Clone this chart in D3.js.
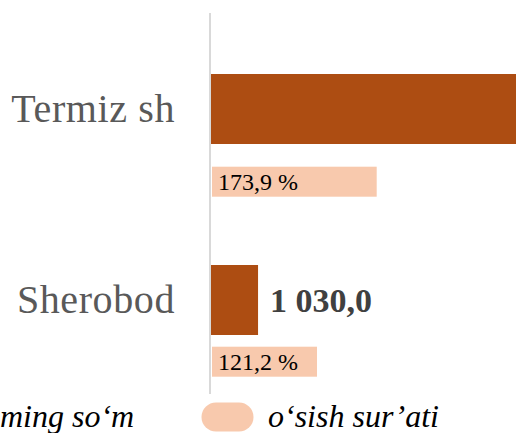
<!DOCTYPE html>
<html>
<head>
<meta charset="utf-8">
<script src="https://cdn.jsdelivr.net/npm/d3@7/dist/d3.min.js"></script>
<style>
  body { margin: 0; background: #fff; }
  svg { display: block; }
</style>
</head>
<body>
<svg id="chart"></svg>
<script>
// data
var categories = ["Termiz sh", "Sherobod"];
var volumeValues = [6560, 1030.0];      // ming so'm (Termiz bar runs off the picture)
var growthValues = [173.9, 121.2];      // o'sish sur'ati, %
var legendLabels = ["ming so\u2018m", "o\u2018sish sur\u2019ati"];

var w = 517;
var h = 433;

var colDark = "#ad4d12";
var colPink = "#f8c9ad";

var plotLeft = 210;
var plotTop = 13;
var plotBottom = 394;

var serif = "'Liberation Serif', 'Times New Roman', serif";

var locale = d3.formatLocale({ decimal: ",", thousands: " ", grouping: [3] });
var fmtVal = locale.format(",.1f");
var fmtPct = locale.format(".1f");

var svg = d3.select("#chart").attr("width", w).attr("height", h);

// scales
var x = d3.scaleLinear().domain([0, volumeValues[0]]).range([plotLeft, 516]);
// secondary axis for growth rate (does not start at zero)
var x2 = d3.scaleLinear().domain([28.5, 173.9]).range([plotLeft + 2, 376.7]);

var yMain = d3.scaleBand().domain(categories)
    .range([74, 335]).paddingInner(121 / 191).paddingOuter(0);
var yPct = d3.scaleBand().domain(categories)
    .range([166.7, 376.7]).paddingInner(150 / 180).paddingOuter(0);

// main bars
svg.selectAll(".bar")
    .data(categories)
    .enter()
    .append("rect")
    .attr("class", "bar")
    .attr("x", x(0))
    .attr("y", function(d) { return yMain(d); })
    .attr("width", function(d, i) { return x(volumeValues[i]) - x(0); })
    .attr("height", yMain.bandwidth())
    .attr("fill", colDark);

// growth bars
svg.selectAll(".pbar")
    .data(categories)
    .enter()
    .append("rect")
    .attr("class", "pbar")
    .attr("x", x2.range()[0])
    .attr("y", function(d) { return yPct(d); })
    .attr("width", function(d, i) { return x2(growthValues[i]) - x2.range()[0]; })
    .attr("height", yPct.bandwidth())
    .attr("fill", colPink);

// vertical axis line
svg.append("line")
    .attr("x1", plotLeft).attr("x2", plotLeft)
    .attr("y1", plotTop).attr("y2", plotBottom)
    .attr("stroke", "#d9d9d9")
    .attr("stroke-width", 2);

// category labels
svg.selectAll(".cat")
    .data(categories)
    .enter()
    .append("text")
    .attr("class", "cat")
    .attr("x", 175)
    .attr("y", function(d) { return yMain(d) + yMain.bandwidth() / 2; })
    .attr("dy", "0.33em")
    .attr("text-anchor", "end")
    .style("font-family", serif)
    .style("font-size", "40px")
    .style("letter-spacing", "0.6px")
    .attr("fill", "#595959")
    .text(function(d) { return d; });

// value labels (only those inside the picture)
svg.selectAll(".val")
    .data(categories.filter(function(d, i) { return x(volumeValues[i]) + 110 < w; }))
    .enter()
    .append("text")
    .attr("class", "val")
    .attr("x", function(d) { return x(volumeValues[categories.indexOf(d)]) + 12; })
    .attr("y", function(d) { return yMain(d) + yMain.bandwidth() / 2; })
    .attr("dy", "0.36em")
    .style("font-family", serif)
    .style("font-size", "34px")
    .style("font-weight", "bold")
    .attr("fill", "#404040")
    .text(function(d) { return fmtVal(volumeValues[categories.indexOf(d)]); });

// growth labels
svg.selectAll(".pct")
    .data(categories)
    .enter()
    .append("text")
    .attr("class", "pct")
    .attr("x", x2.range()[0] + 6)
    .attr("y", function(d) { return yPct(d) + yPct.bandwidth() / 2; })
    .attr("dy", "0.36em")
    .style("font-family", serif)
    .style("font-size", "24px")
    .attr("fill", "#000")
    .text(function(d, i) { return fmtPct(growthValues[i]) + " %"; });

// legend
var legY = 427;
svg.append("text")
    .attr("x", 0)
    .attr("y", legY)
    .style("font-family", serif)
    .style("font-size", "32px")
    .style("font-style", "italic")
    .attr("fill", "#000")
    .text(legendLabels[0]);

svg.append("rect")
    .attr("x", 201.5)
    .attr("y", 402.5)
    .attr("width", 52)
    .attr("height", 29)
    .attr("rx", 14.5)
    .attr("fill", colPink);

svg.append("text")
    .attr("x", 268)
    .attr("y", legY)
    .style("font-family", serif)
    .style("font-size", "32px")
    .style("font-style", "italic")
    .attr("fill", "#000")
    .text(legendLabels[1]);
</script>
</body>
</html>
